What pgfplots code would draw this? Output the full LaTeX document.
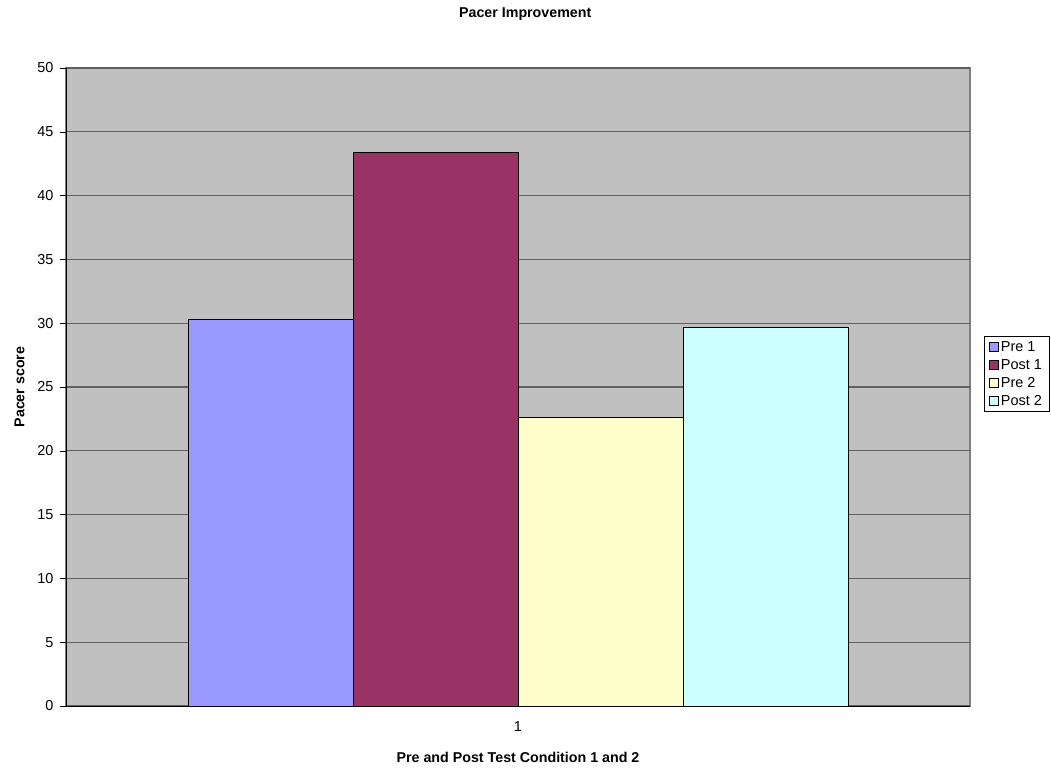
\documentclass[border=0pt]{standalone}
\usepackage{fontspec}
\setmainfont{Liberation Sans}
\usepackage{pgfplots}
\pgfplotsset{compat=1.18}
\definecolor{bgc}{HTML}{C0C0C0}
\definecolor{pre1}{HTML}{9999FF}
\definecolor{post1}{HTML}{993366}
\definecolor{pre2}{HTML}{FFFFCC}
\definecolor{post2}{HTML}{CCFFFF}
\definecolor{gridc}{HTML}{606060}
\begin{document}
\begin{tikzpicture}[x=1bp,y=1bp]
\useasboundingbox (0,0) rectangle (1051,770);
\clip (0,0) rectangle (1051,770);
\begin{axis}[
  at={(66bp,64bp)}, anchor=south west,
  scale only axis, width=904bp, height=638bp,
  xmin=0.5, xmax=1.5, ymin=0, ymax=50,
  ytick={0,5,...,50},
  xtick={1}, xticklabels={1},
  extra x ticks={0.5,1.5}, extra x tick labels={},
  extra x tick style={tick style={black}},
  x tick style={draw=none},
  y tick style={black},
  major tick length=6bp,
  tick align=outside,
  /pgf/number format/assume math mode=true,
  ymajorgrids, grid style={gridc, line width=1.2bp},
  axis background/.style={fill=bgc, draw=gray, line width=1.2bp},
  axis line style={black, line width=0.8bp},
  axis x line*=bottom, axis y line*=left,
  ybar=0pt, bar width=0.1825,
  tick label style={font=\fontsize{14.5}{16}\selectfont},
  yticklabel style={xshift=-3bp},
  xticklabel style={yshift=-6bp},
  title={\bfseries Pacer Improvement},
  title style={font=\fontsize{14.3}{16}\selectfont, at={(0.508,1)}, yshift=38bp},
  xlabel={\bfseries Pre and Post Test Condition 1 and 2},
  xlabel style={font=\fontsize{14.3}{16}\selectfont, yshift=-2bp},
  ylabel={\bfseries Pacer score},
  ylabel style={font=\fontsize{14.3}{16}\selectfont, yshift=6bp},
  legend style={at={(1.0155,0.58)}, anchor=north west, draw=black, line width=0.6bp,
    font=\fontsize{14.5}{16}\selectfont, row sep=2.5bp, inner xsep=5bp, inner ysep=3bp},
  legend image code/.code={\draw[#1, line width=0.6bp] (0bp,-4.5bp) rectangle (9bp,4.5bp);},
  legend cell align=left,
]
\addplot[fill=pre1, draw=black, line width=0.8bp] coordinates {(1,30.3)};
\addplot[fill=post1, draw=black, line width=0.8bp] coordinates {(1,43.4)};
\addplot[fill=pre2, draw=black, line width=0.8bp] coordinates {(1,22.6)};
\addplot[fill=post2, draw=black, line width=0.8bp] coordinates {(1,29.7)};
\legend{Pre 1, Post 1, Pre 2, Post 2}
\end{axis}
\end{tikzpicture}
\end{document}
